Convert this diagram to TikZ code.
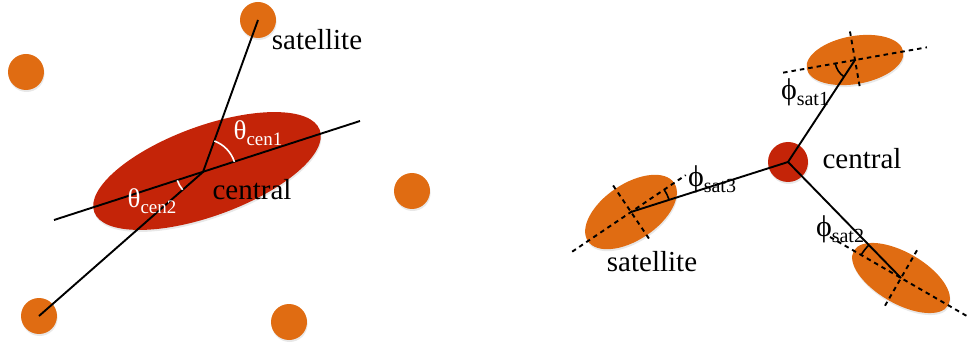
\documentclass[tikz,border=0pt]{standalone}
\usepackage{fontspec}
\setmainfont{Liberation Serif}
\usetikzlibrary{shapes.geometric,calc,shadows}
\definecolor{satorange}{RGB}{224,108,18}
\definecolor{cenred}{RGB}{196,36,8}
\newcommand{\sublab}[4]{{\fontsize{#3}{#3}\selectfont #1\raisebox{-0.22em}{\fontsize{#4}{#4}\selectfont #2}}}
\begin{document}
\begin{tikzpicture}[x=1pt,y=1pt,
  shad/.style={drop shadow={shadow xshift=0.6pt,shadow yshift=-2pt,opacity=0.18}},
  dot/.style={circle,fill=satorange,minimum size=36pt,inner sep=0pt,shad},
  cdot/.style={circle,fill=cenred,minimum size=40pt,inner sep=0pt,shad},
  satell/.style={ellipse,fill=satorange,inner sep=0pt,shad},
  conn/.style={line width=1.9pt,black},
  dsh/.style={line width=1.9pt,black,dash pattern=on 4.5pt off 4pt},
  warc/.style={line width=1.6pt,white},
  barc/.style={line width=1.6pt,black},
  big/.style={font=\fontsize{29}{29}\selectfont,inner sep=0pt}]
\useasboundingbox (0,0) rectangle (968,-347);
% ---------- left ----------
\node[dot] (sl1) at (258,-20) {};
\node[dot] (sl2) at (26,-72) {};
\node[dot] (sl3) at (39,-316) {};
\node[dot] (sl4) at (289,-322) {};
\node[dot] (sl5) at (412,-191) {};
\node[ellipse,fill=cenred,minimum width=240pt,minimum height=90pt,inner sep=0pt,rotate=20,shad] (cl) at (207,-171) {};
\coordinate (cc) at (203,-172);
\coordinate (axa) at (54,-220);
\coordinate (axb) at (360,-121);
\draw[conn] (axa) -- (axb);
\draw[conn] (sl1.center) -- (cc) -- (sl3.center);
\draw[warc] ($(cc)+(18:33)$) arc[start angle=18,end angle=70,radius=33];
\draw[warc] ($(cc)+(198:27)$) arc[start angle=198,end angle=221,radius=27];
\node[text=white,inner sep=0pt] (t1) at (258,-133) {\sublab{θ}{cen1}{27}{19}};
\node[text=white,inner sep=0pt] (t2) at (152,-201) {\sublab{θ}{cen2}{27}{19}};
\node[big] (cenL) at (252,-190) {central};
\node[big] (satL) at (317,-40) {satellite};
% ---------- right ----------
\node[satell,minimum width=98pt,minimum height=48pt,rotate=10] (s1) at (855,-60) {};
\node[satell,minimum width=104pt,minimum height=56pt,rotate=34] (s3) at (631,-212) {};
\node[satell,minimum width=109pt,minimum height=51pt,rotate=-30] (s2) at (901,-278) {};
\node[cdot] (cr) at (788,-162) {};
% axes
\draw[dsh] ($(s1.center)+(190:73)$) -- ($(s1.center)+(10:73)$);
\draw[dsh] ($(s1.center)+(100:29)$) -- ($(s1.center)+(280:29)$);
\draw[dsh] ($(s3.center)+(214:71)$) -- ($(s3.center)+(34:66)$);
\draw[dsh] ($(s3.center)+(124:32)$) -- ($(s3.center)+(304:32)$);
\draw[dsh] ($(s2.center)+(150:82)$) -- ($(s2.center)+(-30:76)$);
\draw[dsh] ($(s2.center)+(60:32)$) -- ($(s2.center)+(240:34)$);
% connectors
\draw[conn] (cr.center) -- (s1.center);
\draw[conn] (cr.center) -- (s2.center);
\draw[conn] (cr.center) -- (s3.center);
% angle arcs
\draw[barc] ($(s1.center)+(190:20)$) arc[start angle=190,end angle=236,radius=20];
\draw[barc] ($(s3.center)+(18:40)$) arc[start angle=18,end angle=34,radius=40];
\draw[barc] ($(s2.center)+(134:46)$) arc[start angle=134,end angle=150,radius=46];
% labels
\node[inner sep=0pt] (p1) at (805,-92) {\sublab{ϕ}{sat1}{30}{20}};
\node[inner sep=0pt] (p3) at (712,-179) {\sublab{ϕ}{sat3}{30}{20}};
\node[inner sep=0pt] (p2) at (840,-229) {\sublab{ϕ}{sat2}{30}{20}};
\node[big] (cenR) at (862,-159) {central};
\node[big] (satR) at (652,-262) {satellite};
\end{tikzpicture}
\end{document}
